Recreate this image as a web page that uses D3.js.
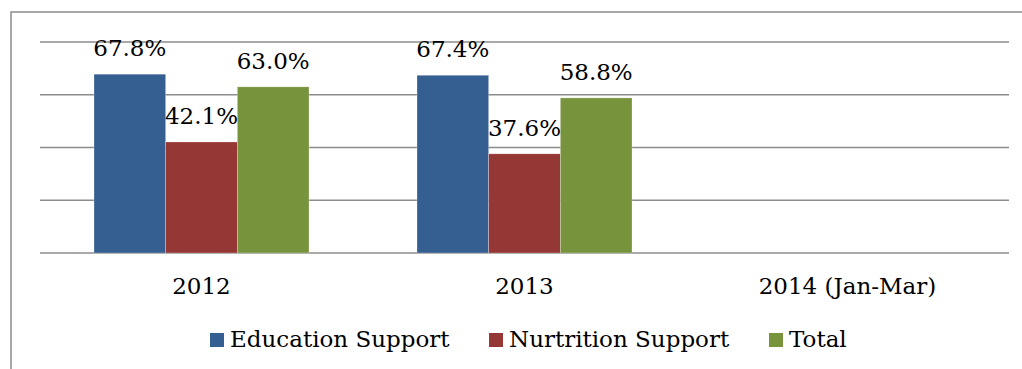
<!DOCTYPE html>
<html>
<head>
<meta charset="utf-8">
<script src="https://cdn.jsdelivr.net/npm/d3@7"></script>
<style>
  body { margin: 0; background: #fff; }
  text { font-family: "DejaVu Serif", Georgia, serif; fill: #000; }
</style>
</head>
<body>
<svg id="chart" width="1022" height="369"></svg>
<script>
const categories = ["2012", "2013", "2014 (Jan-Mar)"]
const seriesNames = ["Education Support", "Nurtrition Support", "Total"]
const seriesColors = ["#365f91", "#953735", "#77933c"]
const education = [67.8, 67.4, null]
const nutrition = [42.1, 37.6, null]
const total = [63.0, 58.8, null]
const yTicks = [0, 20, 40, 60, 80]

const seriesValues = [education, nutrition, total]

const svg = d3.select("#chart")
const margin = { left: 40, right: 13, top: 42, bottom: 116 }
const width = 1022, height = 369
const plotBottom = height - margin.bottom
const fontSize = "23px"

// outer frame (runs off the right and bottom edge)
svg.append("rect")
    .attr("x", 11).attr("y", 12)
    .attr("width", 1040).attr("height", 400)
    .attr("fill", "none")
    .attr("stroke", "#8c8c8c")
    .attr("stroke-width", 1.5)

const x = d3.scaleBand()
    .domain(categories)
    .range([margin.left, width - margin.right])

const bandPad = 54
const xInner = d3.scaleBand()
    .domain(seriesNames)
    .range([bandPad, x.bandwidth() - bandPad])

const y = d3.scaleLinear()
    .domain([0, 80])
    .range([plotBottom, margin.top])

// gridlines
svg.append("g")
    .selectAll("line")
    .data(yTicks)
    .join("line")
        .attr("x1", margin.left)
        .attr("x2", width - margin.right)
        .attr("y1", d => y(d))
        .attr("y2", d => y(d))
        .attr("stroke", "#8c8c8c")
        .attr("stroke-width", 1.6)

const rows = []
categories.forEach((c, i) => {
    seriesNames.forEach((s, j) => {
        const v = seriesValues[j][i]
        if (v !== null) rows.push({ cat: c, series: s, value: v, color: seriesColors[j] })
    })
})

const groups = svg.append("g")

groups.selectAll("rect")
    .data(rows)
    .join("rect")
        .attr("x", d => x(d.cat) + xInner(d.series))
        .attr("y", d => y(d.value))
        .attr("width", xInner.bandwidth())
        .attr("height", d => plotBottom - y(d.value))
        .attr("fill", d => d.color)
        .attr("stroke", "rgba(255,255,255,0.45)")
        .attr("stroke-width", 0.6)

groups.selectAll("text")
    .data(rows)
    .join("text")
        .attr("x", d => x(d.cat) + xInner(d.series) + xInner.bandwidth() / 2)
        .attr("y", d => y(d.value) - 18)
        .attr("text-anchor", "middle")
        .attr("font-size", fontSize)
        .text(d => d.value.toFixed(1) + "%")

// category labels
svg.append("g")
    .selectAll("text")
    .data(categories)
    .join("text")
        .attr("x", d => x(d) + x.bandwidth() / 2)
        .attr("y", 294)
        .attr("text-anchor", "middle")
        .attr("font-size", fontSize)
        .text(d => d)

// legend
const legendX = [210, 489, 769]
const legend = svg.append("g")
    .selectAll("g")
    .data(seriesNames)
    .join("g")
        .attr("transform", (d, i) => `translate(${legendX[i]},333)`)

legend.append("rect")
    .attr("width", 14)
    .attr("height", 14)
    .attr("fill", (d, i) => seriesColors[i])

legend.append("text")
    .attr("x", 20)
    .attr("y", 14)
    .attr("font-size", fontSize)
    .text(d => d)
</script>
</body>
</html>
